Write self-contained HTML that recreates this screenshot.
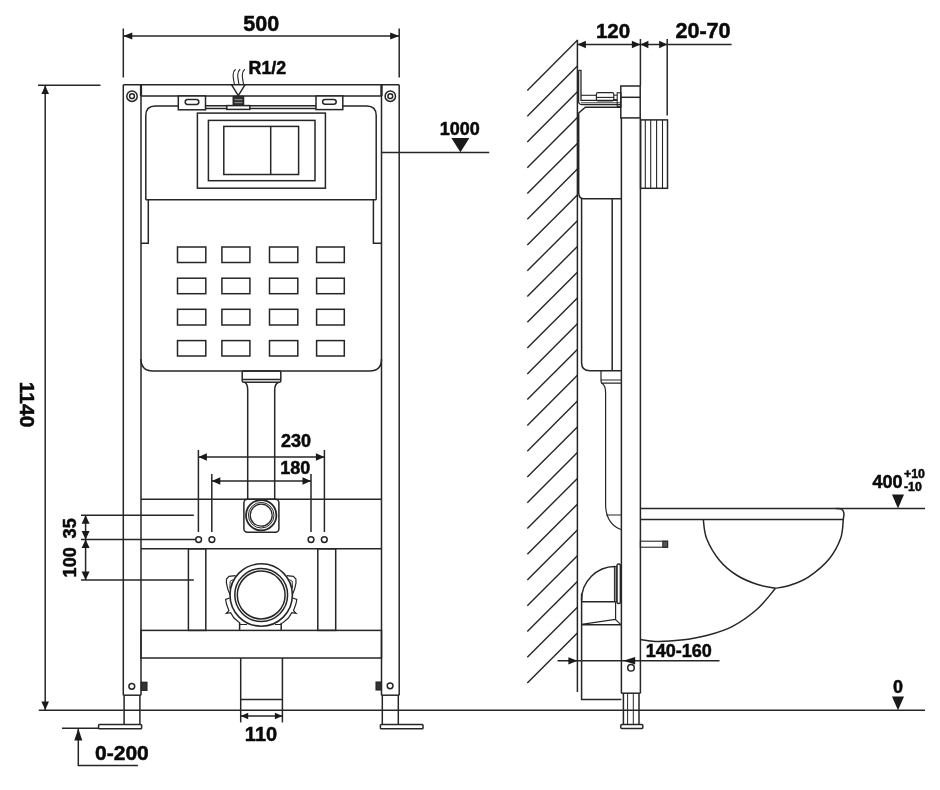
<!DOCTYPE html>
<html><head><meta charset="utf-8"><title>Installation frame drawing</title>
<style>
html,body{margin:0;padding:0;background:#fff;}
body{width:940px;height:790px;overflow:hidden;font-family:"Liberation Sans",sans-serif;}
svg{display:block;will-change:transform;}
svg *{stroke:#262626;stroke-width:1.5;fill:none;stroke-linecap:butt;}
svg text{font-family:"Liberation Sans",sans-serif;font-weight:bold;fill:#0a0a0a;stroke:#0a0a0a;stroke-width:0.5;}
svg .f{fill:#1a1a1a;stroke:none;}
</style></head><body>
<svg width="940" height="790" viewBox="0 0 940 790">
<rect x="0" y="0" width="940" height="790" style="fill:#fff;stroke:none"/>
<line x1="123.3" y1="28.5" x2="123.3" y2="77.5"/>
<line x1="399.2" y1="28.5" x2="399.2" y2="77.5"/>
<line x1="123.3" y1="36.0" x2="399.2" y2="36.0"/>
<polygon class="f" points="123.3,36.0 132.3,32.4 132.3,39.6"/>
<polygon class="f" points="399.2,36.0 390.2,39.6 390.2,32.4"/>
<text x="261.3" y="30.6" font-size="21.5" text-anchor="middle">500</text>
<line x1="123.3" y1="84.8" x2="399.2" y2="84.8"/>
<line x1="141.0" y1="96.0" x2="381.5" y2="96.0"/>
<line x1="123.3" y1="84.8" x2="123.3" y2="695.2"/>
<line x1="141.0" y1="84.8" x2="141.0" y2="695.2"/>
<line x1="123.3" y1="695.2" x2="141.0" y2="695.2"/>
<line x1="399.2" y1="84.8" x2="399.2" y2="695.2"/>
<line x1="381.5" y1="84.8" x2="381.5" y2="695.2"/>
<line x1="381.5" y1="695.2" x2="399.2" y2="695.2"/>
<line x1="141.0" y1="84.8" x2="141.0" y2="96.0" style="stroke-width:2.2"/>
<line x1="381.5" y1="84.8" x2="381.5" y2="96.0" style="stroke-width:2.2"/>
<circle cx="132.0" cy="96.2" r="5.2"/>
<circle cx="132.0" cy="96.2" r="2.4"/>
<circle cx="390.3" cy="96.2" r="5.2"/>
<circle cx="390.3" cy="96.2" r="2.4"/>
<path d="M145.8,199.8 L145.8,115.5 Q145.8,106 155.3,106 L178.3,106 M343,106 L366.7,106 Q376.2,106 376.2,115.5 L376.2,199.8 M145.8,199.8 L376.2,199.8"/>
<line x1="205.5" y1="105.8" x2="316.0" y2="105.8"/>
<line x1="205.5" y1="108.4" x2="316.0" y2="108.4"/>
<rect x="178.3" y="96.0" width="27.2" height="13.8" style="fill:#fff;"/>
<rect x="316.0" y="96.0" width="26.8" height="13.6" style="fill:#fff;"/>
<rect x="185.2" y="99.6" width="13.6" height="4.8" rx="2.4"/>
<rect x="322.6" y="99.4" width="13.6" height="4.8" rx="2.4"/>
<path d="M231.6,84.8 L245,84.8 L238.3,95.6 Z" style="fill:#fff;"/>
<rect x="233.3" y="96.5" width="10.2" height="9.1" style="fill:#333;"/>
<line x1="234.5" y1="99.6" x2="242.5" y2="99.6" style="stroke:#aaa;stroke-width:0.8"/>
<line x1="234.5" y1="102.6" x2="242.5" y2="102.6" style="stroke:#aaa;stroke-width:0.8"/>
<rect x="226.8" y="105.6" width="23.0" height="3.8" style="fill:#fff;"/>
<path d="M235.6,69.3 C232.2,72 232.8,76 234.4,84.5" style="stroke-width:1.1;"/>
<path d="M240.2,69.3 C236.8,72 237.4,76 239.0,84.5" style="stroke-width:1.1;"/>
<path d="M244.8,69.3 C241.4,72 242.0,76 243.6,84.5" style="stroke-width:1.1;"/>
<text x="248.6" y="73.5" font-size="17.8" text-anchor="start">R1/2</text>
<rect x="197.4" y="113.1" width="128.0" height="75.1"/>
<rect x="208.4" y="120.4" width="106.6" height="60.3"/>
<rect x="223.8" y="126.4" width="74.8" height="48.1"/>
<line x1="270.7" y1="126.4" x2="270.7" y2="174.5"/>
<path d="M148.3,199.8 L148.3,243.3 L141,243.3 M373.4,199.8 L373.4,243.3 L381.5,243.3"/>
<path d="M141,359 Q141,371 153,371 L369.5,371 Q381.5,371 381.5,359"/>
<rect x="177.5" y="247.0" width="28.3" height="15.5"/>
<rect x="177.5" y="278.2" width="28.3" height="15.5"/>
<rect x="177.5" y="309.3" width="28.3" height="15.7"/>
<rect x="177.5" y="340.6" width="28.3" height="15.4"/>
<rect x="221.9" y="247.0" width="28.0" height="15.5"/>
<rect x="221.9" y="278.2" width="28.0" height="15.5"/>
<rect x="221.9" y="309.3" width="28.0" height="15.7"/>
<rect x="221.9" y="340.6" width="28.0" height="15.4"/>
<rect x="269.5" y="247.0" width="28.3" height="15.5"/>
<rect x="269.5" y="278.2" width="28.3" height="15.5"/>
<rect x="269.5" y="309.3" width="28.3" height="15.7"/>
<rect x="269.5" y="340.6" width="28.3" height="15.4"/>
<rect x="316.6" y="247.0" width="27.7" height="15.5"/>
<rect x="316.6" y="278.2" width="27.7" height="15.5"/>
<rect x="316.6" y="309.3" width="27.7" height="15.7"/>
<rect x="316.6" y="340.6" width="27.7" height="15.4"/>
<rect x="242.2" y="371.0" width="38.6" height="11.2" rx="1.5"/>
<line x1="242.2" y1="379.4" x2="280.8" y2="379.4"/>
<path d="M244.5,382.2 Q247.7,384 247.7,390 L247.7,499.2 M278.5,382.2 Q274.7,384 274.7,390 L274.7,499.2"/>
<line x1="198.4" y1="450.0" x2="198.4" y2="532.0"/>
<line x1="324.4" y1="450.0" x2="324.4" y2="532.0"/>
<line x1="211.8" y1="474.0" x2="211.8" y2="532.0"/>
<line x1="311.0" y1="474.0" x2="311.0" y2="532.0"/>
<line x1="198.4" y1="457.0" x2="324.4" y2="457.0"/>
<polygon class="f" points="198.4,457.0 206.9,453.2 206.9,460.8"/>
<polygon class="f" points="324.4,457.0 315.9,460.8 315.9,453.2"/>
<line x1="211.8" y1="481.0" x2="311.0" y2="481.0"/>
<polygon class="f" points="211.8,481.0 220.3,477.2 220.3,484.8"/>
<polygon class="f" points="311.0,481.0 302.5,484.8 302.5,477.2"/>
<text x="296.0" y="446.6" font-size="18" text-anchor="middle">230</text>
<text x="295.3" y="473.6" font-size="18" text-anchor="middle">180</text>
<circle cx="198.6" cy="539.6" r="2.9"/>
<circle cx="211.9" cy="539.6" r="2.9"/>
<circle cx="311.0" cy="539.6" r="2.9"/>
<circle cx="324.3" cy="539.6" r="2.9"/>
<line x1="141.0" y1="499.2" x2="381.5" y2="499.2"/>
<line x1="141.0" y1="548.8" x2="381.5" y2="548.8"/>
<rect x="243.9" y="499.2" width="35.0" height="33.0" rx="3.5"/>
<circle cx="261.2" cy="515.2" r="15.2" style="stroke-width:1.8;"/>
<circle cx="261.2" cy="515.2" r="12.8" style="stroke-width:1.0;"/>
<circle cx="261.2" cy="515.2" r="11.0" style="stroke-width:1.3;"/>
<rect x="188.4" y="548.8" width="17.4" height="81.6"/>
<rect x="317.8" y="548.8" width="17.9" height="81.6"/>
<rect x="141.0" y="630.4" width="240.5" height="27.6"/>
<circle cx="261.2" cy="595.0" r="31.2" style="stroke-width:1.6;"/>
<circle cx="261.2" cy="595.0" r="26.4" style="stroke-width:1.5;"/>
<circle cx="261.2" cy="595.0" r="23.9" style="stroke-width:1.5;"/>
<path d="M235.6,575.6 L229.0,576.4 L226.5,579.0 L226.4,583.0 L227.8,589.0 L230.2,595.0" style="stroke-width:1.2;"/>
<path d="M286.8,575.6 L293.4,576.4 L295.9,579.0 L296.0,583.0 L294.6,589.0 L292.2,595.0" style="stroke-width:1.2;"/>
<path d="M233.0,579.6 L230.2,581.2 L229.8,588.5" style="stroke-width:0.9;"/>
<path d="M289.4,579.6 L292.2,581.2 L292.6,588.5" style="stroke-width:0.9;"/>
<path d="M229.7,598.0 L225.6,599.5 L226.5,604.0 L228.9,610.6 L226.3,613.4 L230.6,612.6 L234.0,618.0 L240.3,623.4" style="stroke-width:1.2;"/>
<path d="M292.7,598.0 L296.8,599.5 L295.9,604.0 L293.5,610.6 L296.1,613.4 L291.8,612.6 L288.4,618.0 L282.1,623.4" style="stroke-width:1.2;"/>
<path d="M239.6,622.8 L239.6,630.4 M281.2,622.8 L281.2,630.4"/>
<line x1="239.6" y1="624.5" x2="247.0" y2="624.5" style="stroke-width:1"/>
<line x1="275.0" y1="624.5" x2="281.2" y2="624.5" style="stroke-width:1"/>
<line x1="240.7" y1="658.0" x2="240.7" y2="722.4"/>
<line x1="282.4" y1="658.0" x2="282.4" y2="722.4"/>
<line x1="240.7" y1="699.4" x2="282.4" y2="699.4"/>
<line x1="240.7" y1="716.0" x2="282.4" y2="716.0"/>
<polygon class="f" points="240.7,716.0 248.2,712.7 248.2,719.3"/>
<polygon class="f" points="282.4,716.0 274.9,719.3 274.9,712.7"/>
<text x="261.0" y="740.6" font-size="20" text-anchor="middle">110</text>
<line x1="124.1" y1="695.2" x2="124.1" y2="724.2"/>
<line x1="139.9" y1="695.2" x2="139.9" y2="724.2"/>
<rect x="98.6" y="724.5" width="43.0" height="4.2" rx="0.8" style="fill:#fff;"/>
<line x1="382.3" y1="695.2" x2="382.3" y2="724.2"/>
<line x1="398.3" y1="695.2" x2="398.3" y2="724.2"/>
<rect x="380.4" y="724.5" width="42.6" height="4.2" rx="0.8" style="fill:#fff;"/>
<circle cx="131.8" cy="686.3" r="2.9"/>
<circle cx="390.1" cy="685.8" r="2.9"/>
<rect x="141.4" y="682.4" width="5.4" height="7.8" style="fill:#333;"/>
<rect x="376.2" y="682.2" width="5.1" height="7.6" style="fill:#333;"/>
<line x1="38.8" y1="710.2" x2="925.0" y2="710.2"/>
<line x1="38.0" y1="85.3" x2="100.5" y2="85.3"/>
<line x1="45.2" y1="85.3" x2="45.2" y2="710.0"/>
<polygon class="f" points="45.2,85.5 49.0,94.0 41.4,94.0"/>
<polygon class="f" points="45.2,710.0 41.4,701.5 49.0,701.5"/>
<text x="19.8" y="404.6" font-size="21" text-anchor="middle" transform="rotate(90 19.8 404.6)">1140</text>
<line x1="81.0" y1="515.2" x2="193.8" y2="515.2"/>
<line x1="81.0" y1="539.5" x2="195.6" y2="539.5"/>
<line x1="81.0" y1="580.0" x2="193.8" y2="580.0"/>
<line x1="85.6" y1="515.2" x2="85.6" y2="580.0"/>
<polygon class="f" points="85.6,515.2 89.6,523.8 81.6,523.8"/>
<polygon class="f" points="85.6,539.5 81.6,530.9 89.6,530.9"/>
<polygon class="f" points="85.6,539.5 89.6,548.1 81.6,548.1"/>
<polygon class="f" points="85.6,580.0 81.6,571.4 89.6,571.4"/>
<text x="76.2" y="528.3" font-size="18.2" text-anchor="middle" transform="rotate(-90 76.2 528.3)">35</text>
<text x="76.2" y="562.2" font-size="18.2" text-anchor="middle" transform="rotate(-90 76.2 562.2)">100</text>
<line x1="62.0" y1="728.2" x2="98.6" y2="728.2"/>
<path d="M78.3,728.4 L78.3,765.4 L137.9,765.4"/>
<polygon class="f" points="78.3,728.6 82.3,740.6 74.3,740.6"/>
<text x="121.9" y="759.6" font-size="21" text-anchor="middle">0-200</text>
<line x1="381.5" y1="152.5" x2="489.2" y2="152.5"/>
<polygon class="f" points="451.4,137.9 469.4,137.9 460.4,152.3"/>
<text x="459.7" y="135.4" font-size="18" text-anchor="middle">1000</text>
<line x1="527.3" y1="90.4" x2="577.4" y2="40.3" style="stroke-width:1.4"/>
<line x1="527.3" y1="116.2" x2="577.4" y2="66.1" style="stroke-width:1.4"/>
<line x1="527.3" y1="141.9" x2="577.4" y2="91.8" style="stroke-width:1.4"/>
<line x1="527.3" y1="167.7" x2="577.4" y2="117.6" style="stroke-width:1.4"/>
<line x1="527.3" y1="193.5" x2="577.4" y2="143.4" style="stroke-width:1.4"/>
<line x1="527.3" y1="219.2" x2="577.4" y2="169.1" style="stroke-width:1.4"/>
<line x1="527.3" y1="245.0" x2="577.4" y2="194.9" style="stroke-width:1.4"/>
<line x1="527.3" y1="270.8" x2="577.4" y2="220.7" style="stroke-width:1.4"/>
<line x1="527.3" y1="296.6" x2="577.4" y2="246.5" style="stroke-width:1.4"/>
<line x1="527.3" y1="322.3" x2="577.4" y2="272.2" style="stroke-width:1.4"/>
<line x1="527.3" y1="348.1" x2="577.4" y2="298.0" style="stroke-width:1.4"/>
<line x1="527.3" y1="373.9" x2="577.4" y2="323.8" style="stroke-width:1.4"/>
<line x1="527.3" y1="399.6" x2="577.4" y2="349.5" style="stroke-width:1.4"/>
<line x1="527.3" y1="425.4" x2="577.4" y2="375.3" style="stroke-width:1.4"/>
<line x1="527.3" y1="451.2" x2="577.4" y2="401.1" style="stroke-width:1.4"/>
<line x1="527.3" y1="477.0" x2="577.4" y2="426.9" style="stroke-width:1.4"/>
<line x1="527.3" y1="502.7" x2="577.4" y2="452.6" style="stroke-width:1.4"/>
<line x1="527.3" y1="528.5" x2="577.4" y2="478.4" style="stroke-width:1.4"/>
<line x1="527.3" y1="554.3" x2="577.4" y2="504.2" style="stroke-width:1.4"/>
<line x1="527.3" y1="580.0" x2="577.4" y2="529.9" style="stroke-width:1.4"/>
<line x1="527.3" y1="605.8" x2="577.4" y2="555.7" style="stroke-width:1.4"/>
<line x1="527.3" y1="631.6" x2="577.4" y2="581.5" style="stroke-width:1.4"/>
<line x1="527.3" y1="657.3" x2="577.4" y2="607.2" style="stroke-width:1.4"/>
<line x1="527.3" y1="683.1" x2="577.4" y2="633.0" style="stroke-width:1.4"/>
<line x1="577.4" y1="39.8" x2="577.4" y2="692.0"/>
<line x1="640.4" y1="39.0" x2="640.4" y2="85.7"/>
<line x1="667.2" y1="39.0" x2="667.2" y2="115.5"/>
<line x1="577.4" y1="44.5" x2="731.6" y2="44.5"/>
<polygon class="f" points="577.4,44.5 585.9,40.7 585.9,48.3"/>
<polygon class="f" points="640.4,44.5 631.9,48.3 631.9,40.7"/>
<polygon class="f" points="640.4,44.5 648.4,40.7 648.4,48.3"/>
<polygon class="f" points="667.2,44.5 659.2,48.3 659.2,40.7"/>
<text x="613.0" y="38.4" font-size="20.5" text-anchor="middle">120</text>
<text x="703.0" y="38.4" font-size="21.6" text-anchor="middle">20-70</text>
<path d="M578.8,70.3 L581,70.3 L581,100.4 L617.2,100.4 M578.6,70.3 L578.6,101.5 Q578.8,104.7 582.5,104.7 L620.8,104.7" style="stroke-width:1.3;"/>
<line x1="581.0" y1="95.3" x2="596.4" y2="95.3" style="stroke-width:1.1"/>
<line x1="581.0" y1="102.8" x2="620.0" y2="102.8" style="stroke-width:0.9"/>
<rect x="596.4" y="92.6" width="17.4" height="8.3" rx="1.6" style="stroke-width:1.2;"/>
<line x1="596.4" y1="97.4" x2="613.8" y2="97.4" style="stroke-width:1.1"/>
<line x1="613.8" y1="95.2" x2="617.2" y2="95.2" style="stroke-width:1"/>
<line x1="613.8" y1="99.6" x2="617.2" y2="99.6" style="stroke-width:1"/>
<rect x="617.2" y="92.8" width="3.8" height="13.6" style="stroke-width:1.1;"/>
<rect x="620.8" y="86.0" width="19.4" height="31.9"/>
<line x1="620.8" y1="97.3" x2="640.2" y2="97.3"/>
<path d="M621.4,107.2 L585.3,107.2 L578.7,113 L578.7,193 Q578.8,198.8 584,198.8 L621.4,198.8"/>
<line x1="621.4" y1="117.9" x2="621.4" y2="693.2"/>
<line x1="640.4" y1="117.9" x2="640.4" y2="693.2"/>
<rect x="640.6" y="119.9" width="26.9" height="68.4"/>
<line x1="645.3" y1="119.9" x2="645.3" y2="188.3" style="stroke-width:1.1"/>
<line x1="650.7" y1="119.9" x2="650.7" y2="188.3" style="stroke-width:1.1"/>
<line x1="656.6" y1="119.9" x2="656.6" y2="188.3" style="stroke-width:1.1"/>
<line x1="662.5" y1="119.9" x2="662.5" y2="188.3" style="stroke-width:1.1"/>
<path d="M581.6,198.8 L581.6,363 Q581.6,370.8 590,370.8 L621.4,370.8"/>
<line x1="612.2" y1="198.8" x2="612.2" y2="370.8"/>
<path d="M601,370.8 L601,380.5 M601,380 L621.4,380 M601,383.2 L621.4,383.2 M601,380 Q601,383.2 602.5,383.8 Q605.6,386 605.6,393 L605.6,505 Q606,524 621.4,529.8" style="stroke-width:1.2;"/>
<line x1="606.2" y1="515.0" x2="621.4" y2="515.0" style="stroke-width:1"/>
<line x1="640.4" y1="508.4" x2="925.0" y2="508.4"/>
<line x1="640.4" y1="519.5" x2="843.2" y2="519.5"/>
<path d="M703.3,519.5 C703.8,522.7 703.9,531.7 706.6,538.5 C709.3,545.3 714.3,554.0 719.4,560.2 C724.5,566.4 730.8,571.5 737.2,575.5 C743.6,579.5 751.2,582.4 757.6,584.5 C764.0,586.6 772.5,587.7 775.5,588.3"/>
<path d="M836.0,508.4 C836.9,508.5 840.3,508.3 841.6,509.1 C842.9,509.9 843.6,511.5 843.9,513.2 C844.2,514.9 843.8,515.3 843.3,519.5 C842.8,523.7 843.0,531.9 840.6,538.5 C838.2,545.1 834.4,552.5 829.1,558.9 C823.8,565.3 815.1,572.4 808.7,576.8 C802.3,581.1 796.3,583.1 790.8,585.0 C785.3,586.9 778.0,587.8 775.5,588.3"/>
<path d="M775.5,588.3 C772.5,591.7 764.8,602.3 757.6,608.7 C750.4,615.1 740.6,622.1 732.1,626.6 C723.6,631.1 715.1,633.2 706.6,635.5 C698.1,637.8 689.6,639.1 681.1,640.1 C672.6,641.1 662.2,641.5 655.5,641.4 C648.8,641.3 643.2,639.9 640.7,639.6"/>
<rect x="640.4" y="541.2" width="27.2" height="6.0" style="stroke-width:1.1;"/>
<rect x="662.8" y="541.2" width="4.8" height="6.0" style="stroke-width:1;fill:#555;"/>
<text x="887.6" y="487.5" font-size="18" text-anchor="middle">400</text>
<text x="904.0" y="478.0" font-size="12.3" text-anchor="start">+10</text>
<text x="904.0" y="490.6" font-size="12.3" text-anchor="start">-10</text>
<polygon class="f" points="892,494.6 904,494.6 898,508.4"/>
<text x="898.0" y="692.5" font-size="18" text-anchor="middle">0</text>
<polygon class="f" points="892,696.6 904,696.6 898,710.2"/>
<path d="M581.6,593.5 L581.6,699.6 L621.4,699.6"/>
<path d="M581.5,600.5 A33.6,33.6 0 0 1 615,566.6"/>
<line x1="581.5" y1="601.8" x2="614.6" y2="601.8"/>
<line x1="581.5" y1="624.7" x2="621.4" y2="624.7"/>
<path d="M581.5,624.4 L615.3,619.4 L620.9,624.6 M615.6,601.8 L615.6,619.4" style="stroke-width:1.2;"/>
<rect x="614.4" y="566.5" width="2.6" height="35.3" style="stroke-width:1;fill:#8c8c8c;"/>
<rect x="617.0" y="563.9" width="3.4" height="39.6" rx="1.6" style="stroke-width:1.5;fill:#fff;"/>
<line x1="621.3" y1="693.2" x2="640.4" y2="693.2"/>
<line x1="623.4" y1="693.2" x2="623.4" y2="724.4"/>
<line x1="639.0" y1="693.2" x2="639.0" y2="724.4"/>
<line x1="627.6" y1="693.2" x2="627.6" y2="724.4" style="stroke-width:1"/>
<line x1="633.3" y1="693.2" x2="633.3" y2="724.4" style="stroke-width:1"/>
<rect x="620.8" y="724.4" width="22.0" height="4.2" rx="1" style="fill:#fff;"/>
<line x1="557.5" y1="660.8" x2="719.5" y2="660.8"/>
<polygon class="f" points="577.4,660.8 568.4,664.4 568.4,657.2"/>
<polygon class="f" points="623.2,660.8 635.2,657.0 635.2,664.6"/>
<circle cx="631.0" cy="667.8" r="3.3"/>
<text x="678.7" y="657.0" font-size="18" text-anchor="middle">140-160</text>
</svg>
</body></html>
